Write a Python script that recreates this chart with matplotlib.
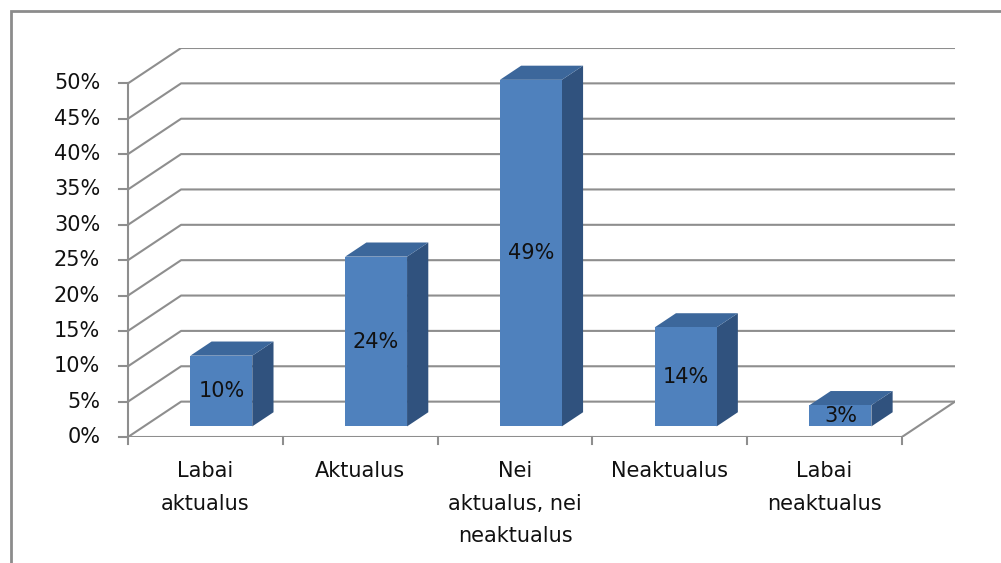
import matplotlib
matplotlib.use("Agg")
from matplotlib import pyplot as plt
from matplotlib.patches import Rectangle

categories = ["Labai\naktualus", "Aktualus", "Nei\naktualus, nei\nneaktualus",
              "Neaktualus", "Labai\nneaktualus"]
values = [10, 24, 49, 14, 3]
yticks = list(range(0, 55, 5))
ytick_labels = [f"{t}%" for t in yticks]

# pseudo 3d depth of the plot box, in data units (x = categories, y = percent)
DX = 0.343
DY = 5.0
GRID = "#8e8e8e"
FRONT = "#4f81bd"
TOP = "#3c679b"
SIDE = "#30527e"
FS = 15

W, H = 1001, 563
fig = plt.figure(figsize=(W / 100, H / 100), dpi=100)
fig.patches.append(Rectangle((11 / W, -0.1), 1.2, 1 - 11 / H + 0.1, transform=fig.transFigure,
                             fill=False, edgecolor="#8c8c8c", linewidth=2.0))

ax = fig.add_axes([128 / W, (H - 437) / H, (955 - 128) / W, (437 - 48) / H])
n = len(categories)
ax.set_xlim(0, n + DX)
ax.set_ylim(0, 50 + DY)
ax.axis("off")

# back wall gridlines with their diagonal on the side wall
for t in yticks:
    ax.plot([0, DX, n + DX], [t, t + DY, t + DY], color=GRID, lw=1.5, zorder=1,
            solid_capstyle="butt")
# floor outline
ax.plot([0, n, n + DX], [0, 0, DY], color=GRID, lw=1.5, zorder=1)
# value axis with ticks and labels
ax.plot([0, 0], [0, 50], color=GRID, lw=1.5, zorder=1, clip_on=False)
for t, lab in zip(yticks, ytick_labels):
    ax.plot([-0.055, 0], [t, t], color=GRID, lw=1.5, clip_on=False)
    ax.text(-0.18, t, lab, ha="right", va="center", fontsize=FS, color="#111111")
# category ticks and labels
for i in range(n + 1):
    ax.plot([i, i], [0, -1.0], color=GRID, lw=1.5, clip_on=False)
for i, lab in enumerate(categories):
    ax.text(i + 0.5, -3.4, lab, ha="center", va="top", fontsize=FS, color="#111111",
            linespacing=1.78)

# bars sit between 30% and 70% of the depth
d0, d1 = 0.3, 0.7
bw = 0.4
for i, v in enumerate(values):
    x0 = i + 0.3 + d0 * DX
    x1 = x0 + bw
    y0 = d0 * DY
    y1 = y0 + v
    ddx = (d1 - d0) * DX
    ddy = (d1 - d0) * DY
    ax.fill([x1, x1 + ddx, x1 + ddx, x1], [y0, y0 + ddy, y1 + ddy, y1], color=SIDE, lw=0, zorder=3)
    ax.fill([x0, x1, x1 + ddx, x0 + ddx], [y1, y1, y1 + ddy, y1 + ddy], color=TOP, lw=0, zorder=3)
    ax.fill([x0, x1, x1, x0], [y0, y0, y1, y1], color=FRONT, lw=0, zorder=4)
    ax.text((x0 + x1) / 2, (y0 + y1) / 2, f"{v}%", ha="center", va="center",
            fontsize=FS, color="#111111", zorder=5)

fig.savefig("out.png", dpi=100)
